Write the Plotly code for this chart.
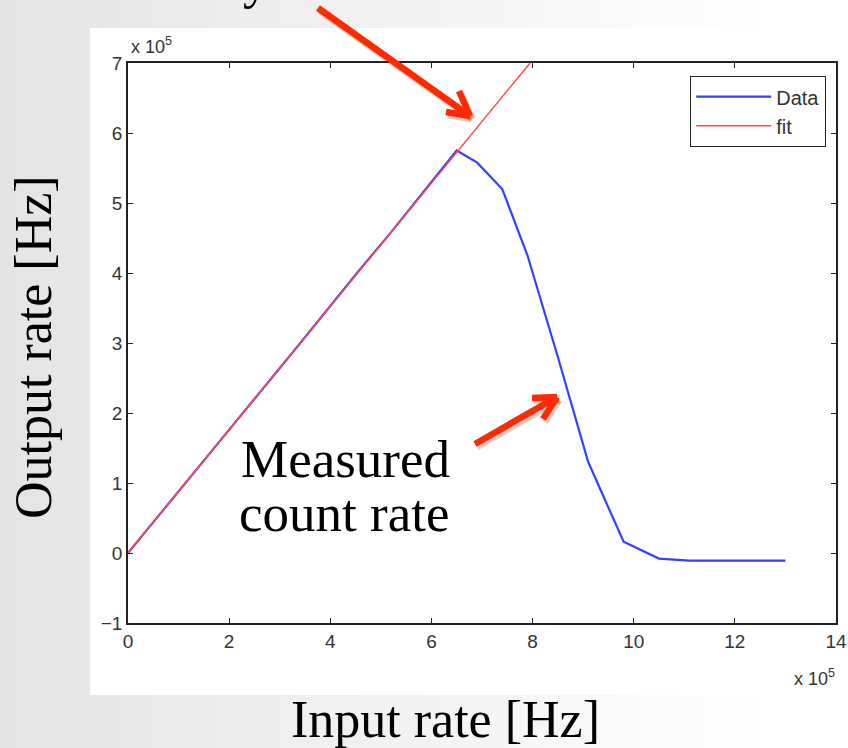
import plotly.graph_objects as go

# Data (input / output rates in units of 1e5 Hz)
data_x = [0, 0.65, 1.3, 1.95, 2.6, 3.25, 3.9, 4.55, 5.2, 5.85, 6.5,
          6.9, 7.4, 7.9, 8.5, 9.1, 9.8, 10.5, 11.1, 13.0]
data_y = [0, 0.57, 1.15, 1.72, 2.29, 2.86, 3.44, 4.02, 4.58, 5.16, 5.75,
          5.58, 5.2, 4.25, 2.8, 1.3, 0.16, -0.08, -0.11, -0.11]
fit_x = [0, 7.95]
fit_y = [0, 7.0]

x_ticks = [0, 2, 4, 6, 8, 10, 12, 14]
y_ticks = [-1, 0, 1, 2, 3, 4, 5, 6, 7]

W, H = 848, 748
L, R, T, B = 128, 836, 63, 623  # plot area in pixels


def px(x):
    return (x - L) / (R - L)


def py(y):
    return (B - y) / (B - T)


fig = go.Figure()
fig.add_trace(go.Scatter(x=data_x, y=data_y, mode="lines", name="Data",
                         line=dict(color="#3340ff", width=2.2)))
fig.add_trace(go.Scatter(x=fit_x, y=fit_y, mode="lines", name="fit",
                         line=dict(color="#ff4a4a", width=1.5)))

shapes = []
# background gradient (light gray at left fading to white)
n = 40
for i in range(n):
    x0 = i * W / n
    x1 = (i + 1) * W / n
    t = (i + 0.5) / n
    v = int(round(0xe4 + (0xff - 0xe4) * min(1.0, t * 1.1)))
    c = "#%02x%02x%02x" % (v, v, v)
    shapes.append(dict(type="rect", xref="paper", yref="paper",
                       x0=px(x0), x1=px(x1 + 1), y0=py(H + 2), y1=py(-2),
                       fillcolor=c, line=dict(width=0), layer="below"))
# white figure panel
shapes.append(dict(type="rect", xref="paper", yref="paper",
                   x0=px(90), x1=px(W + 2), y0=py(695), y1=py(28),
                   fillcolor="white", line=dict(width=0), layer="below"))


def arrow(points, color, width, dx=0, dy=0):
    out = []
    for (a, b) in points:
        out.append(dict(type="line", xref="paper", yref="paper",
                        x0=px(a[0] + dx), y0=py(a[1] + dy),
                        x1=px(b[0] + dx), y1=py(b[1] + dy),
                        line=dict(color=color, width=width), layer="above"))
    return out


red = "#ff2a00"
shadow = "rgba(120,60,40,0.25)"
# arrow 1 (toward the fit line)
a1 = [((318, 8), (470, 116)), ((470, 116), (459, 91)), ((470, 116), (446, 112))]
# arrow 2 (toward the measured curve)
a2 = [((475, 444), (557, 397)), ((557, 397), (532, 398)), ((557, 397), (543, 419))]
shapes += arrow(a1, shadow, 7, 2, 3) + arrow(a2, shadow, 7, 2, 3)
shapes += arrow(a1, red, 6.5) + arrow(a2, red, 6.5)

serif = "Liberation Serif, Times New Roman, serif"
sans = "Liberation Sans, Arial, Helvetica, sans-serif"

annotations = [
    dict(text="x 10<sup>5</sup>", xref="paper", yref="paper",
         x=px(129), y=py(59), xanchor="left", yanchor="bottom",
         showarrow=False, font=dict(family=sans, size=18, color="#333")),
    dict(text="x 10<sup>5</sup>", xref="paper", yref="paper",
         x=px(837), y=py(664), xanchor="right", yanchor="top",
         showarrow=False, font=dict(family=sans, size=18, color="#333")),
    dict(text="Measured", xref="paper", yref="paper",
         x=px(239), y=py(459), xanchor="left", yanchor="middle",
         showarrow=False, font=dict(family=serif, size=53, color="black")),
    dict(text="count rate", xref="paper", yref="paper",
         x=px(237), y=py(513), xanchor="left", yanchor="middle",
         showarrow=False, font=dict(family=serif, size=53, color="black")),
    dict(text="Output rate [Hz]", xref="paper", yref="paper",
         x=px(33), y=py(347), xanchor="center", yanchor="middle",
         textangle=-90, showarrow=False,
         font=dict(family=serif, size=52, color="black")),
    dict(text="Input rate [Hz]", xref="paper", yref="paper",
         x=px(445), y=py(719), xanchor="center", yanchor="middle",
         showarrow=False, font=dict(family=serif, size=52, color="black")),
    # partially visible label at the very top
    dict(text="y", xref="paper", yref="paper",
         x=px(256), y=py(11), xanchor="center", yanchor="bottom",
         showarrow=False, font=dict(family=serif, size=52, color="black")),
]

axis_common = dict(showgrid=False, zeroline=False, showline=True,
                   linecolor="#222", linewidth=1.5, mirror="ticks",
                   ticks="inside", ticklen=5, tickwidth=1.2, tickcolor="#222",
                   automargin=False,
                   tickfont=dict(family=sans, size=19, color="#333"))

fig.update_layout(
    width=W, height=H, autosize=False,
    margin=dict(l=L, r=W - R, t=T, b=H - B),
    paper_bgcolor="white", plot_bgcolor="white",
    xaxis=dict(range=[0, 14], tickvals=x_ticks, ticktext=[str(v) for v in x_ticks],
               **axis_common),
    yaxis=dict(range=[-1, 7], tickvals=y_ticks,
               ticktext=[("\u2212" + str(-v)) if v < 0 else str(v) for v in y_ticks],
               **axis_common),
    legend=dict(x=px(826), y=py(76), xanchor="right", yanchor="top",
                bgcolor="white", bordercolor="#222", borderwidth=1.2,
                font=dict(family=sans, size=20, color="#333"),
                itemwidth=75, tracegroupgap=0),
    shapes=shapes,
    annotations=annotations,
    showlegend=True,
)

fig.write_html("out.html",
               config=dict(displayModeBar=False, responsive=False),
               post_script="document.body.style.margin='0';"
                           "document.body.style.overflow='hidden';"
                           "document.documentElement.style.overflow='hidden';")
